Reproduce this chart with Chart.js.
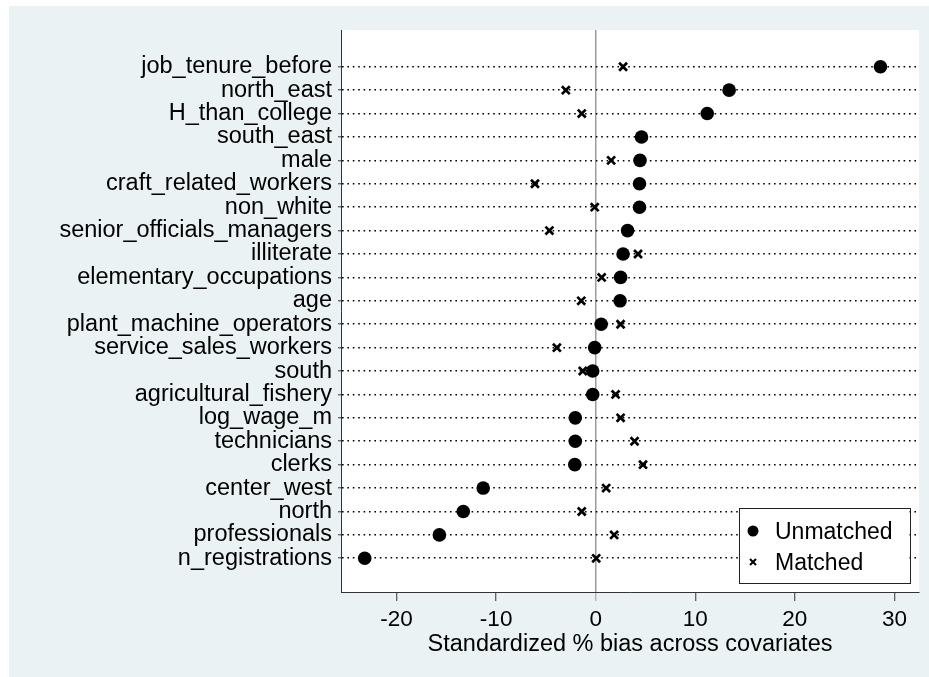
<!DOCTYPE html>
<html>
<head>
<meta charset="utf-8">
<script src="https://cdn.jsdelivr.net/npm/chart.js@4/dist/chart.umd.min.js"></script>
<style>
  html, body { margin: 0; padding: 0; background: #ffffff; }
  #c { display: block; }
</style>
</head>
<body>
<canvas id="c" width="929" height="677"></canvas>
<script>
// ---- data ----
const categories = [
  "job_tenure_before", "north_east", "H_than_college", "south_east", "male",
  "craft_related_workers", "non_white", "senior_officials_managers", "illiterate",
  "elementary_occupations", "age", "plant_machine_operators", "service_sales_workers",
  "south", "agricultural_fishery", "log_wage_m", "technicians", "clerks",
  "center_west", "north", "professionals", "n_registrations"
];
const unmatched = [28.6, 13.4, 11.2, 4.6, 4.45, 4.4, 4.4, 3.2, 2.75, 2.5, 2.45, 0.55,
  -0.1, -0.3, -0.3, -2.05, -2.05, -2.1, -11.3, -13.3, -15.7, -23.2];
const matched = [2.75, -3.0, -1.4, 4.6, 1.55, -6.1, -0.1, -4.65, 4.25, 0.6, -1.45, 2.5,
  -3.9, -1.3, 2.0, 2.5, 3.9, 4.75, 1.05, -1.4, 1.85, 0.05];
const xTicks = [-20, -10, 0, 10, 20, 30];
const seriesNames = ["Unmatched", "Matched"];
const xTitle = "Standardized % bias across covariates";

const FONT = "'Liberation Sans', Arial, Helvetica, sans-serif";
const PANEL = "#EAF2F3";

const toPoints = arr => arr.map((v, i) => ({ x: v, y: i + 1 }));

const bgPlugin = {
  id: 'bg',
  beforeDraw(chart) {
    const { ctx, chartArea: a } = chart;
    ctx.save();
    ctx.fillStyle = '#ffffff';
    ctx.fillRect(0, 0, chart.width, chart.height);
    ctx.fillStyle = PANEL;
    ctx.fillRect(9, 6, chart.width - 9, chart.height - 6);
    ctx.fillStyle = '#ffffff';
    ctx.fillRect(a.left, a.top, a.right - a.left, a.bottom - a.top);
    ctx.restore();
  }
};

const legendPlugin = {
  id: 'boxLegend',
  afterDatasetsDraw(chart) {
    const { ctx, chartArea: a } = chart;
    const w = 170.5, h = 75;
    const right = a.right - 9.5, bottom = a.bottom - 9;
    const left = right - w, top = bottom - h;
    ctx.save();
    ctx.fillStyle = '#ffffff';
    ctx.fillRect(left, top, w, h);
    ctx.strokeStyle = '#222';
    ctx.lineWidth = 1;
    ctx.strokeRect(Math.round(left) + 0.5, Math.round(top) + 0.5, Math.round(w), Math.round(h));
    const mx = left + 14;
    const rows = [top + 23, top + 54];
    // Unmatched marker: filled circle
    ctx.fillStyle = '#000';
    ctx.beginPath();
    ctx.arc(mx, rows[0], 5.5, 0, Math.PI * 2);
    ctx.fill();
    // Matched marker: small x
    ctx.strokeStyle = '#000';
    ctx.lineWidth = 2;
    const d = 3;
    ctx.beginPath();
    ctx.moveTo(mx - d, rows[1] - d); ctx.lineTo(mx + d, rows[1] + d);
    ctx.moveTo(mx - d, rows[1] + d); ctx.lineTo(mx + d, rows[1] - d);
    ctx.stroke();
    ctx.fillStyle = '#000';
    ctx.font = "23px " + FONT;
    ctx.textAlign = 'left';
    ctx.textBaseline = 'alphabetic';
    chart.data.datasets.forEach((ds, i) => {
      ctx.fillText(ds.label, left + 36, rows[i] + 8.2);
    });
    ctx.restore();
  }
};

new Chart(document.getElementById('c'), {
  type: 'scatter',
  data: {
    datasets: [
      {
        label: seriesNames[0],
        data: toPoints(unmatched),
        pointStyle: 'circle',
        pointRadius: 6.8,
        pointBackgroundColor: '#000',
        pointBorderWidth: 0,
        pointBorderColor: '#000'
      },
      {
        label: seriesNames[1],
        data: toPoints(matched),
        pointStyle: 'crossRot',
        pointRadius: 5.6,
        pointBorderWidth: 2.7,
        pointBorderColor: '#000',
        pointBackgroundColor: '#000'
      }
    ]
  },
  options: {
    responsive: false,
    animation: false,
    devicePixelRatio: 1,
    events: [],
    layout: { padding: { top: 30, right: 10, left: 0, bottom: 0 } },
    plugins: {
      legend: { display: false },
      tooltip: { enabled: false }
    },
    scales: {
      x: {
        type: 'linear',
        min: -25.58,
        max: 32.47,
        afterBuildTicks(scale) { scale.ticks = xTicks.map(v => ({ value: v })); },
        afterFit(scale) { scale.height = 85; },
        border: { display: true, color: '#333', width: 1 },
        grid: {
          drawOnChartArea: true,
          drawTicks: true,
          tickLength: 9,
          lineWidth: 1.5,
          tickWidth: 1,
          color: ctx => (ctx.tick && ctx.tick.value === 0) ? '#9c9c9c' : 'rgba(0,0,0,0)',
          tickColor: ctx => (ctx.tick && ctx.tick.value === 0) ? '#9c9c9c' : '#333'
        },
        ticks: {
          color: '#000',
          font: { family: FONT, size: 22.5 },
          padding: 5,
          maxRotation: 0,
          autoSkip: false
        },
        title: {
          display: true,
          text: xTitle,
          color: '#000',
          font: { family: FONT, size: 23.5 },
          padding: { top: 0, bottom: 18 }
        }
      },
      y: {
        type: 'linear',
        reverse: true,
        min: -0.57,
        max: 23.44,
        afterBuildTicks(scale) { scale.ticks = categories.map((c, i) => ({ value: i + 1 })); },
        afterFit(scale) { scale.width = 341; },
        border: { display: true, color: '#333', width: 1, dash: [1.6, 3.8] },
        grid: {
          drawOnChartArea: true,
          drawTicks: true,
          tickLength: 3,
          lineWidth: 1.6,
          color: '#000',
          tickColor: '#333',
          tickWidth: 1
        },
        ticks: {
          color: '#000',
          font: { family: FONT, size: 23.5 },
          padding: 6,
          autoSkip: false,
          callback: v => categories[Math.round(v) - 1]
        }
      }
    }
  },
  plugins: [bgPlugin, legendPlugin]
});
</script>
</body>
</html>
